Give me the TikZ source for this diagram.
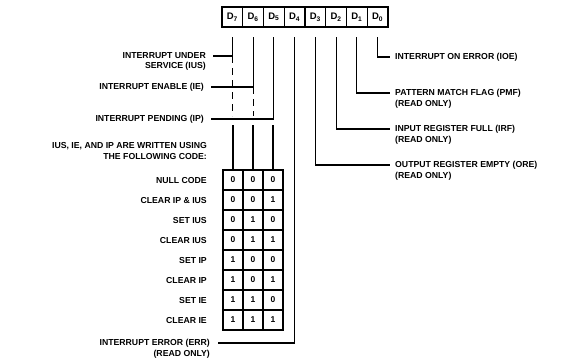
\documentclass[tikz,border=0pt]{standalone}
\usepackage{fontspec}
\setmainfont{Liberation Sans}
\usetikzlibrary{positioning}

\begin{document}
\begin{tikzpicture}[x=1pt,y=-1pt,
    lbl/.style={font=\fontsize{8.7}{10}\selectfont\bfseries,inner sep=0pt},
    regbit/.style={draw,line width=1.3pt,minimum width=20.75pt,minimum height=20pt,
      inner sep=0pt,outer sep=0pt,font=\fontsize{9.5}{10}\selectfont\bfseries},
    codebit/.style={draw,line width=1.4pt,minimum width=20pt,minimum height=20pt,
      inner sep=0pt,outer sep=0pt,font=\fontsize{8.5}{10}\selectfont\bfseries},
    wire/.style={line width=1.1pt},
    dashwire/.style={line width=1.1pt,dash pattern=on 7pt off 5pt}]
  \useasboundingbox (0,0) rectangle (569,362);
  % register bits
  \node[regbit](d7) at (232.4,17){D\textsubscript{7}};
  \foreach \b/\a in {6/7,5/6,4/5,3/4,2/3,1/2,0/1}
    \node[regbit,right=0pt of d\a](d\b){D\textsubscript{\b}};
  \coordinate(top) at (0,37);
  % read-only bits on the right
  \node[lbl,anchor=west](ioe) at (395,57){INTERRUPT ON ERROR (IOE)};
  \node[lbl,anchor=west](pmf) at (395,93){PATTERN MATCH FLAG (PMF)};
  \node[lbl,below right=3pt and 0pt of pmf.south west](pmfro){(READ ONLY)};
  \node[lbl,anchor=west](irf) at (395,129){INPUT REGISTER FULL (IRF)};
  \node[lbl,below right=3pt and 0pt of irf.south west](irfro){(READ ONLY)};
  \node[lbl,anchor=west](ore) at (395,165){OUTPUT REGISTER EMPTY (ORE)};
  \node[lbl,below right=3pt and 0pt of ore.south west](orero){(READ ONLY)};
  \draw[wire](d0.south |- top) |- ([xshift=-5pt]ioe.west);
  \draw[wire](d1.south |- top) |- ([xshift=-5pt]pmf.west);
  \draw[wire](d2.south |- top) |- ([xshift=-5pt]irf.west);
  \draw[wire](d3.south |- top) |- ([xshift=-5pt]ore.west);
  % interrupt bits on the left
  \node[lbl,anchor=east](ius) at (206,56){INTERRUPT UNDER};
  \node[lbl,below left=3pt and 0pt of ius.south east](ius2){SERVICE (IUS)};
  \node[lbl,anchor=east](ie) at (204,87){INTERRUPT ENABLE (IE)};
  \node[lbl,anchor=east](ip) at (204,119){INTERRUPT PENDING (IP)};
  \node[lbl,anchor=east](hd) at (207,146){IUS, IE, AND IP ARE WRITTEN USING};
  \node[lbl,below left=3pt and 0pt of hd.south east](hd2){THE FOLLOWING CODE:};
  \coordinate(gapA) at (0,116);
  \coordinate(gapB) at (0,125);
  \draw[wire](d7.south |- top) |- ([xshift=7pt]ius.east);
  \draw[wire](d6.south |- top) |- ([xshift=7pt]ie.east);
  \draw[wire](d5.south |- top) |- ([xshift=7pt]ip.east);
  \draw[dashwire](d7.south |- ius.east) -- (d7.south |- gapA);
  \draw[dashwire](d6.south |- ie.east) -- (d6.south |- gapA);
  % code table
  \foreach \name/\p/\q/\s [count=\i] in {NULL CODE/0/0/0,CLEAR IP \& IUS/0/0/1,
      SET IUS/0/1/0,CLEAR IUS/0/1/1,SET IP/1/0/0,CLEAR IP/1/0/1,SET IE/1/1/0,CLEAR IE/1/1/1}{
    \node[codebit](t\i-1) at (233,{160+20*\i}){\p};
    \node[codebit,right=0pt of t\i-1](t\i-2){\q};
    \node[codebit,right=0pt of t\i-2](t\i-3){\s};
    \node[lbl,anchor=east](r\i) at (207,{160+20*\i}){\name};
  }
  \foreach \k in {1,2,3}
    \draw[wire](t1-\k.north |- gapB) -- (t1-\k.north);
  % error bit
  \node[lbl,anchor=east](err) at (210,343){INTERRUPT ERROR (ERR)};
  \node[lbl,below left=3pt and 0pt of err.south east](errro){(READ ONLY)};
  \draw[wire](d4.south |- top) |- ([xshift=8pt]err.east);
\end{tikzpicture}
\end{document}
